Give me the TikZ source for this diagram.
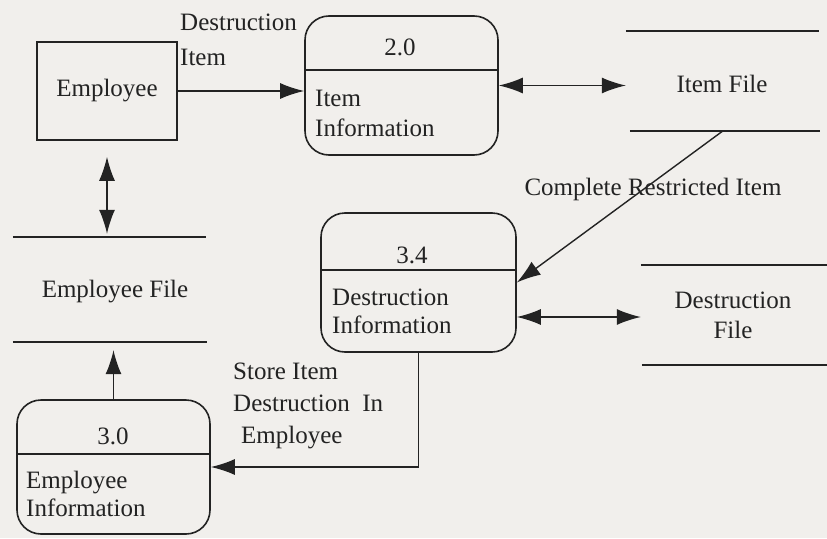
\documentclass[tikz,border=0pt]{standalone}
\usepackage{fontspec}
\setmainfont{Liberation Serif}
\usetikzlibrary{arrows.meta}
\definecolor{paper}{RGB}{241,239,236}
\definecolor{ink}{RGB}{35,35,35}
\begin{document}
\begin{tikzpicture}[x=1pt,y=-1pt,
  every node/.style={text=ink},
  txt/.style={inner sep=0pt, font=\fontsize{25}{30}\selectfont},
  entbox/.style={draw=ink, line width=1.6pt, inner sep=0pt, font=\fontsize{25}{30}\selectfont},
  procbox/.style={draw=ink, line width=1.6pt, rounded corners=24pt, inner sep=0pt},
  storebox/.style={inner sep=0pt},
  storeline/.style={draw=ink, line width=1.6pt},
  conn/.style={draw=ink, line width=1.4pt},
  tip/.style={-{Latex[length=24pt,width=16pt]}},
  tips/.style={{Latex[length=24pt,width=16pt]}-{Latex[length=24pt,width=16pt]}}
]
\fill[paper] (0,0) rectangle (827,538);
\useasboundingbox (0,0) rectangle (827,538);

% external entity
\node[entbox, minimum width=140pt, minimum height=98pt] (emp) at (107,91) {Employee};

% processes
\node[procbox, minimum width=193pt, minimum height=139pt] (p2) at (401.5,85.5) {};
\draw[storeline] ([yshift=-55pt]p2.north west) -- ([yshift=-55pt]p2.north east);
\node[txt] (p2n) at (400,47) {2.0};
\node[txt, anchor=west, align=left] (p2t) at (315,113) {Item\\Information};

\node[procbox, minimum width=195pt, minimum height=139pt] (p34) at (418.5,282.5) {};
\draw[storeline] ([yshift=-58pt]p34.north west) -- ([yshift=-58pt]p34.north east);
\node[txt] (p34n) at (412,255) {3.4};
\node[txt, anchor=west, align=left, font=\fontsize{25}{28}\selectfont] (p34t) at (332,311) {Destruction\\Information};

\node[procbox, minimum width=193pt, minimum height=134pt] (p30) at (113.5,467) {};
\draw[storeline] ([yshift=-55pt]p30.north west) -- ([yshift=-55pt]p30.north east);
\node[txt] (p30n) at (113,436) {3.0};
\node[txt, anchor=west, align=left, font=\fontsize{25}{28}\selectfont] (p30t) at (26,494) {Employee\\Information};

% data stores
\node[storebox, minimum width=193pt, minimum height=100pt] (itemfile) at (722.5,81) {};
\draw[storeline] (itemfile.north west) -- (itemfile.north east);
\draw[storeline] ([xshift=4pt]itemfile.south west) -- ([xshift=1pt]itemfile.south east);
\node[txt] (itemfilet) at (722,84) {Item File};

\node[storebox, minimum width=186pt, minimum height=100pt] (destfile) at (734,315) {};
\draw[storeline] (destfile.north west) -- (destfile.north east);
\draw[storeline] ([xshift=1pt]destfile.south west) -- (destfile.south east);
\node[txt, align=center] (destfilet) at (733,315) {Destruction\\File};

\node[storebox, minimum width=193pt, minimum height=105pt] (empfile) at (109.5,289.5) {};
\draw[storeline] (empfile.north west) -- (empfile.north east);
\draw[storeline] (empfile.south west) -- ([xshift=1pt]empfile.south east);
\node[txt] (empfilet) at (115,292) {Employee File};

% connectors
\draw[conn, tip] (emp.east) -- (emp.east -| p2.west);
\draw[conn, tips] (p2.east) -- (p2.east -| itemfile.west);
\draw[conn, tip] (itemfile.south) -- (p34.east);
\draw[conn, tips] ([yshift=-34.5pt]p34.east) -- ([yshift=-34.5pt]p34.east -| destfile.west);
\draw[conn, tips, shorten <=16pt, shorten >=3pt] (emp.south) -- (emp.south |- empfile.north);
\draw[conn, tip, shorten >=8pt] (p30.north) -- (p30.north |- empfile.south);
\draw[conn, tip] (p34.south) |- (p30.east);

% flow labels
\node[txt, anchor=west, align=left, font=\fontsize{25}{35}\selectfont] (l1) at (180,40) {Destruction\\Item};
\node[txt] (l2) at (653,189) {Complete Restricted Item};
\node[txt, anchor=west, align=left, font=\fontsize{25}{32}\selectfont] (l3) at (233,406) {Store Item\\Destruction~ In\\\hspace*{8pt}Employee};
\end{tikzpicture}
\end{document}
